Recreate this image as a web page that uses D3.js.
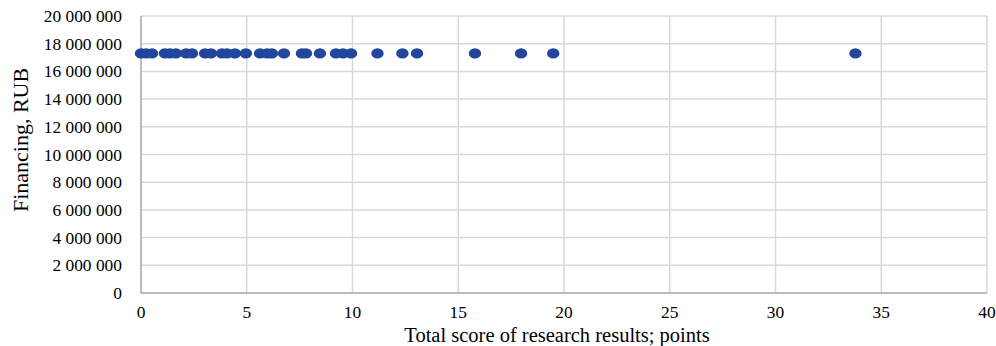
<!DOCTYPE html>
<html>
<head>
<meta charset="utf-8">
<script src="https://cdn.jsdelivr.net/npm/d3@7"></script>
<style>
  html, body { margin: 0; padding: 0; background: #fff; }
  svg { display: block; }
  text { font-family: "Liberation Serif", "Times New Roman", serif; fill: #000; }
</style>
</head>
<body>
<svg id="chart" width="996" height="346"></svg>
<script>
// Data
const scores = [0, 0.24, 0.52, 1.13, 1.37, 1.65, 2.13, 2.41, 3.03, 3.31, 3.83, 4.07, 4.44, 4.96,
  5.63, 5.96, 6.19, 6.76, 7.61, 7.8, 8.46, 9.22, 9.55, 9.93, 11.18, 12.36, 13.05, 15.79, 17.97, 19.49, 33.78];
const financing = [17300000, 17300000, 17300000, 17300000, 17300000, 17300000, 17300000, 17300000,
  17300000, 17300000, 17300000, 17300000, 17300000, 17300000, 17300000, 17300000, 17300000, 17300000,
  17300000, 17300000, 17300000, 17300000, 17300000, 17300000, 17300000, 17300000, 17300000, 17300000,
  17300000, 17300000, 17300000];
const xTicks = [0, 5, 10, 15, 20, 25, 30, 35, 40];
const yTicks = [0, 2000000, 4000000, 6000000, 8000000, 10000000, 12000000, 14000000, 16000000, 18000000, 20000000];
const xTitle = "Total score of research results; points";
const yTitle = "Financing, RUB";

const svg = d3.select("#chart");
const mLeft = 141, mRight = 987, mTop = 16, mBottom = 293;

const x = d3.scaleLinear().domain([0, 40]).range([mLeft, mRight]);
const y = d3.scaleLinear().domain([0, 20000000]).range([mBottom, mTop]);

const fmt = v => d3.format(",")(v).replace(/,/g, " ");

// gridlines
svg.append("g").selectAll("line").data(yTicks.filter(d => d > 0)).join("line")
  .attr("x1", mLeft).attr("x2", mRight).attr("y1", d => y(d)).attr("y2", d => y(d))
  .attr("stroke", "#d9d9d9").attr("stroke-width", 1.5);
svg.append("g").selectAll("line").data(xTicks.filter(d => d > 0)).join("line")
  .attr("x1", d => x(d)).attr("x2", d => x(d)).attr("y1", mTop).attr("y2", mBottom)
  .attr("stroke", "#d9d9d9").attr("stroke-width", 1.5);

// axis lines
svg.append("line").attr("x1", mLeft).attr("x2", mLeft).attr("y1", mTop).attr("y2", mBottom)
  .attr("stroke", "#a6a6a6").attr("stroke-width", 1.5);
svg.append("line").attr("x1", mLeft).attr("x2", mRight).attr("y1", mBottom).attr("y2", mBottom)
  .attr("stroke", "#a6a6a6").attr("stroke-width", 1.5);

// tick labels
svg.append("g").selectAll("text").data(yTicks).join("text")
  .attr("x", 122).attr("y", d => y(d)).attr("dy", "0.35em")
  .attr("text-anchor", "end").attr("font-size", 17.4)
  .text(fmt);
svg.append("g").selectAll("text").data(xTicks).join("text")
  .attr("x", d => x(d)).attr("y", 318)
  .attr("text-anchor", "middle").attr("font-size", 17.4)
  .text(d => d);

// titles
svg.append("text").attr("x", 557).attr("y", 342).attr("text-anchor", "middle")
  .attr("font-size", 20.5).text(xTitle);
svg.append("text").attr("transform", "translate(28,140) rotate(-90)")
  .attr("text-anchor", "middle").attr("font-size", 22).text(yTitle);

// points
svg.append("g").selectAll("ellipse").data(scores).join("ellipse")
  .attr("cx", d => x(d)).attr("cy", (d, i) => y(financing[i]))
  .attr("rx", 6.2).attr("ry", 5.2)
  .attr("fill", "#21469b");
</script>
</body>
</html>
